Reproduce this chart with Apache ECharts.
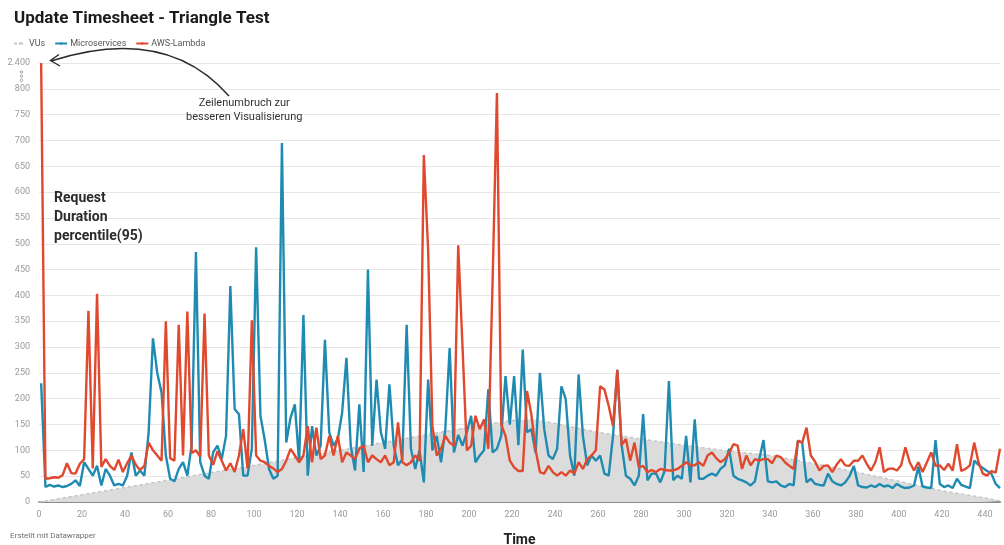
<!DOCTYPE html>
<html>
<head>
<meta charset="utf-8">
<script src="https://cdn.jsdelivr.net/npm/echarts@6/dist/echarts.min.js"></script>
<style>
  html, body { margin: 0; padding: 0; background: #ffffff; }
  #chart { width: 1004px; height: 545px; }
</style>
</head>
<body>
<div id="chart"></div>
<script>
// Sample times: one reading every 2 time units, starting at t = 1
const FIRST_TIME = 1;
const TIME_STEP = 2;

// Request duration, percentile(95), in ms
const microservices = [
  230, 29, 33, 30, 32, 29, 31, 35, 42, 31,
  77, 64, 51, 70, 32, 64, 51, 32, 35, 32,
  51, 96, 51, 61, 51, 135, 317, 250, 212, 90,
  45, 40, 64, 77, 51, 110, 484, 77, 51, 45,
  96, 109, 83, 128, 418, 180, 170, 51, 51, 103,
  493, 167, 120, 64, 45, 51, 695, 115, 163, 189,
  77, 362, 51, 147, 90, 109, 314, 135, 109, 122,
  173, 279, 109, 61, 189, 58, 450, 109, 237, 135,
  103, 228, 109, 71, 83, 343, 103, 64, 100, 38,
  237, 100, 128, 77, 141, 298, 96, 130, 109, 135,
  167, 77, 90, 100, 218, 96, 103, 128, 244, 150,
  244, 110, 295, 135, 141, 95, 250, 141, 90, 83,
  103, 224, 199, 90, 51, 247, 128, 71, 90, 80,
  90, 55, 51, 128, 256, 110, 51, 45, 32, 51,
  170, 42, 55, 55, 38, 60, 234, 42, 51, 45,
  128, 38, 160, 45, 45, 51, 55, 51, 64, 71,
  103, 51, 45, 42, 38, 32, 40, 83, 120, 40,
  38, 40, 32, 29, 35, 32, 119, 115, 38, 45,
  35, 33, 32, 55, 40, 35, 32, 38, 50, 70,
  32, 29, 28, 32, 29, 35, 30, 32, 27, 35,
  30, 27, 28, 32, 68, 30, 28, 27, 120, 35,
  29, 32, 27, 45, 33, 30, 27, 80, 72, 66,
  60, 55, 35, 27
];

const awsLambda = [
  2400, 45, 46, 48, 47, 52, 75, 56, 55, 74,
  83, 370, 65, 403, 68, 83, 70, 62, 82, 58,
  75, 90, 72, 62, 70, 115, 100, 90, 80, 350,
  85, 80, 343, 90, 369, 95, 100, 88, 365, 90,
  72, 98, 80, 61, 75, 58, 90, 141, 65, 352,
  90, 80, 77, 70, 65, 58, 64, 80, 103, 90,
  77, 90, 147, 77, 144, 83, 90, 128, 90, 128,
  77, 96, 90, 83, 103, 109, 77, 90, 83, 77,
  90, 71, 77, 154, 77, 71, 77, 90, 80, 672,
  488, 147, 90, 103, 128, 115, 109, 497, 300, 100,
  109, 167, 141, 160, 103, 430, 792, 150, 128, 80,
  67, 60, 60, 215, 170, 100, 58, 55, 70, 58,
  51, 58, 51, 61, 55, 77, 64, 83, 90, 100,
  224, 218, 186, 147, 256, 110, 122, 80, 115, 67,
  70, 58, 62, 58, 64, 62, 61, 61, 64, 70,
  77, 71, 71, 77, 70, 90, 96, 85, 77, 83,
  95, 112, 109, 64, 90, 71, 83, 80, 83, 83,
  75, 90, 87, 77, 70, 64, 118, 115, 144, 90,
  78, 61, 70, 71, 58, 72, 83, 71, 70, 80,
  80, 90, 74, 61, 77, 106, 58, 64, 65, 61,
  71, 106, 77, 61, 77, 58, 77, 96, 70, 71,
  62, 74, 61, 112, 60, 64, 71, 115, 77, 55,
  51, 60, 57, 103
];

// Virtual users of the triangle load profile
const vuTimes  = [0, 20, 40, 60, 80, 100, 120, 140, 160, 180, 200, 220, 230, 240, 260, 280, 300, 320, 340, 360, 380, 400, 420, 440, 447];
const vuValues = [0, 14, 28, 42, 57, 71, 86, 100, 115, 130, 145, 158, 160, 152, 135, 122, 110, 99, 90, 75, 58, 40, 22, 8, 2];

// Y axis: linear up to 800, then one compressed band that ends at 2,400
const AXIS_CUT = 800;
const AXIS_TOP = 2400;
const CUT_BAND = 50;
const yTickStep = 50;
const xTickStep = 20;
const X_MAX = 447;

function toAxis(v) {
  if (v <= AXIS_CUT) return v;
  return AXIS_CUT + (v - AXIS_CUT) / (AXIS_TOP - AXIS_CUT) * CUT_BAND;
}

function pairs(values) {
  return values.map((v, i) => [FIRST_TIME + i * TIME_STEP, toAxis(v)]);
}

const BLUE = '#1f8bb1';
const RED = '#e0492e';
const FONT = 'Roboto, "Noto Sans", sans-serif';

const chart = echarts.init(document.getElementById('chart'), null, { renderer: 'canvas' });

chart.setOption({
  animation: false,
  backgroundColor: '#ffffff',
  textStyle: { fontFamily: FONT },
  title: {
    text: 'Update Timesheet - Triangle Test',
    left: 9,
    top: 5,
    textStyle: { fontFamily: FONT, fontSize: 17, fontWeight: 'bold', color: '#1b1b1b' }
  },
  legend: {
    left: 8,
    top: 34,
    itemWidth: 12,
    itemHeight: 3,
    itemGap: 9,
    textStyle: { fontFamily: FONT, fontSize: 9, color: '#555555', padding: [0, 0, 0, -2] },
    data: ['VUs', 'Microservices', 'AWS-Lambda']
  },
  grid: { left: 39, right: 4, top: 63, bottom: 43, containLabel: false, outerBoundsMode: 'none' },
  xAxis: {
    type: 'value',
    min: 0,
    max: X_MAX,
    interval: xTickStep,
    name: 'Time',
    nameLocation: 'middle',
    nameGap: 31,
    nameTextStyle: { fontFamily: FONT, fontSize: 14, fontWeight: 'bold', color: '#222222' },
    axisLine: { show: true, onZero: false, lineStyle: { color: '#8c8c8c', width: 2 } },
    axisTick: { show: false },
    splitLine: { show: false },
    axisLabel: {
      margin: 8,
      fontSize: 9,
      color: '#9a9a9a',
      showMaxLabel: false,
      fontFamily: FONT
    }
  },
  yAxis: {
    type: 'value',
    min: 0,
    max: AXIS_CUT + CUT_BAND,
    interval: yTickStep,
    axisLine: { show: false },
    axisTick: { show: false },
    splitLine: { show: true, lineStyle: { color: '#e6e6e6', width: 1 } },
    axisLabel: {
      margin: 9,
      fontSize: 9,
      color: '#9a9a9a',
      fontFamily: FONT,
      formatter: v => (v === AXIS_CUT + CUT_BAND ? '2.400' : String(v))
    }
  },
  series: [
    {
      name: 'VUs',
      type: 'line',
      data: vuTimes.map((t, i) => [t, vuValues[i]]),
      symbol: 'none',
      lineStyle: { color: '#c4c4c4', width: 1.5, type: [3, 3] },
      itemStyle: { color: '#c4c4c4' },
      areaStyle: { color: '#dcdcdc', opacity: 1 },
      z: 1
    },
    {
      name: 'Microservices',
      type: 'line',
      data: pairs(microservices),
      symbol: 'none',
      lineStyle: { color: BLUE, width: 2.4 },
      itemStyle: { color: BLUE },
      z: 3
    },
    {
      name: 'AWS-Lambda',
      type: 'line',
      data: pairs(awsLambda),
      symbol: 'none',
      lineStyle: { color: RED, width: 2.4 },
      itemStyle: { color: RED },
      z: 4
    }
  ],
  graphic: [
    // break marker between 800 and 2.400 on the y axis
    { type: 'circle', shape: { cx: 21.5, cy: 72, r: 1.2 }, style: { fill: 'none', stroke: '#9a9a9a', lineWidth: 0.9 }, z: 10 },
    { type: 'circle', shape: { cx: 21.5, cy: 76.2, r: 1.2 }, style: { fill: 'none', stroke: '#9a9a9a', lineWidth: 0.9 }, z: 10 },
    { type: 'circle', shape: { cx: 21.5, cy: 80.4, r: 1.2 }, style: { fill: 'none', stroke: '#9a9a9a', lineWidth: 0.9 }, z: 10 },
    // annotation arrow pointing at the cut-off spike
    {
      type: 'bezierCurve',
      shape: { x1: 229, y1: 96, x2: 51, y2: 61, cpx1: 166, cpy1: 24 },
      style: { stroke: '#2a2a2a', lineWidth: 1.4, fill: 'none' },
      z: 10
    },
    {
      type: 'polyline',
      shape: { points: [[59, 54.5], [50.5, 60.5], [60, 66]] },
      style: { stroke: '#2a2a2a', lineWidth: 1.4, fill: 'none' },
      z: 10
    },
    {
      type: 'text',
      left: 186,
      top: 96,
      style: {
        text: 'Zeilenumbruch zur\nbesseren Visualisierung',
        fontFamily: FONT,
        fontSize: 11,
        lineHeight: 14,
        fill: '#333333',
        textAlign: 'center',
        x: 61
      },
      z: 10
    },
    {
      type: 'text',
      left: 54,
      top: 189,
      style: {
        text: 'Request\nDuration\npercentile(95)',
        fontFamily: FONT,
        fontSize: 14,
        fontWeight: 'bold',
        lineHeight: 19,
        fill: '#2b2b2b'
      },
      z: 10
    },
    {
      type: 'text',
      left: 10,
      top: 532,
      style: {
        text: 'Erstellt mit Datawrapper',
        fontFamily: FONT,
        fontSize: 8,
        fill: '#707070'
      },
      z: 10
    }
  ]
});
</script>
</body>
</html>
